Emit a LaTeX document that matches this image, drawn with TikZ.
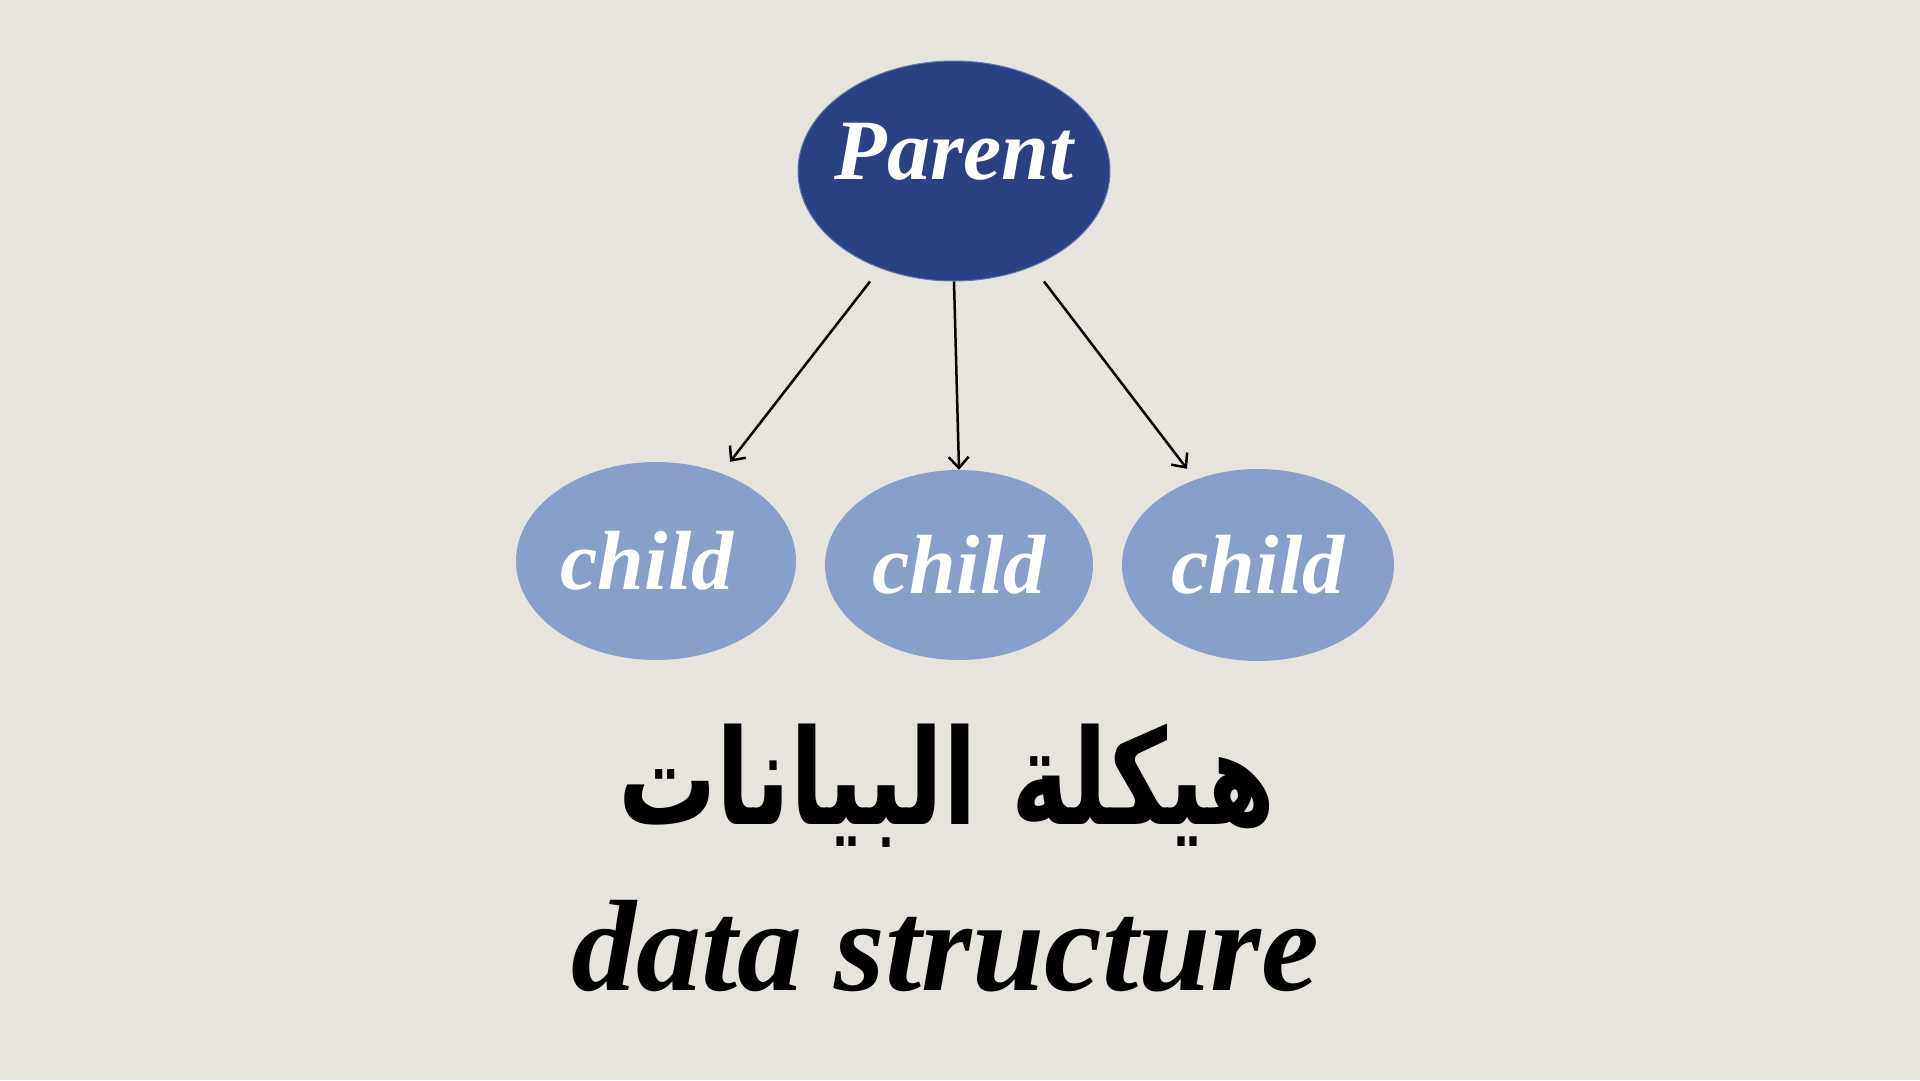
\documentclass[tikz,border=0pt]{standalone}
\usepackage{fontspec}
\setmainfont{Liberation Serif}
\newfontfamily\arabicfont[Script=Arabic]{DejaVu Sans}
\TeXXeTstate=1
\usetikzlibrary{shapes.geometric,arrows.meta}
\definecolor{bgc}{HTML}{E7E4DD}
\definecolor{parentc}{HTML}{2C4084}
\definecolor{childc}{HTML}{889FCA}
\tikzset{
  parentbox/.style={ellipse, fill=parentc, draw=childc!60!parentc, line width=1pt, inner sep=0pt,
    minimum width=312pt, minimum height=220pt},
  childbox/.style={ellipse, fill=childc, inner sep=0pt},
  nodetext/.style={inner sep=0pt, text=white, font=\fontsize{#1}{#1}\selectfont\bfseries\itshape},
  link/.style={line width=2.5pt, -{Straight Barb[length=11pt,width=20pt]}},
  titletext/.style={inner sep=0pt, text=black}
}
\begin{document}
\begin{tikzpicture}[x=1pt,y=-1pt]
  \fill[bgc] (0,0) rectangle (1920,1080);
  \useasboundingbox (0,0) rectangle (1920,1080);
  \node[parentbox] (p) at (954,171) {};
  \node[childbox, minimum width=280pt, minimum height=198pt] (c1) at (656,561) {};
  \node[childbox, minimum width=268pt, minimum height=190pt] (c2) at (959,565) {};
  \node[childbox, minimum width=272pt, minimum height=192pt] (c3) at (1258,565) {};
  \node[nodetext=86] (pt) at ([yshift=19pt]p.center) {Parent};
  \node[nodetext=84] (ct1) at ([xshift=-9pt]c1.center) {child};
  \node[nodetext=84] (ct2) at (c2.center) {child};
  \node[nodetext=84] (ct3) at (c3.center) {child};
  \draw[link] ([xshift=-84pt]p.south) -- ([xshift=74pt]c1.north);
  \draw[link] (p.south) -- (c2.north);
  \draw[link] ([xshift=90pt]p.south) -- ([xshift=-71pt]c3.north);
  \node[titletext, font=\fontsize{98}{98}\selectfont\bfseries\arabicfont] (ar) at (947,786) {\scalebox{1}[1.35]{\beginR هيكلة البيانات\endR}};
  \node[titletext, font=\fontsize{130}{130}\selectfont\bfseries\itshape] (en) at (945,946) {data structure};
\end{tikzpicture}
\end{document}
